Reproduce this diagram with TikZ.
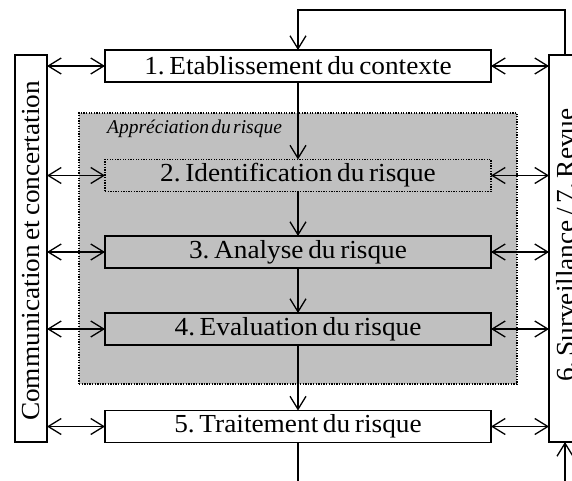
\documentclass[tikz,border=0pt]{standalone}
\usepackage{fontspec}
\setmainfont{Liberation Serif}
\newfontfamily\widefont[FakeStretch=1.05]{Liberation Serif}
\newcommand\myboxfont{\widefont\fontsize{26}{28}\selectfont\frenchspacing\spaceskip=0.18em\relax}
\newcommand\myitfont{\fontsize{19.5}{21}\selectfont\itshape\spaceskip=0.12em\relax}
\usetikzlibrary{arrows.meta}
\definecolor{rgray}{RGB}{192,192,192}
\begin{document}
\begin{tikzpicture}[x=1pt,y=-1pt,
  bigfont/.style={font=\myboxfont},
  box/.style={draw=black, line width=1.3pt, inner sep=0pt, outer sep=0pt,
    minimum width=386pt, minimum height=32pt, bigfont},
  graybox/.style={box, fill=rgray},
  dotbox/.style={graybox, dash pattern=on 1.3pt off 1.3pt},
  region/.style={fill=rgray, draw=black, line width=1.2pt, dash pattern=on 1.3pt off 1.3pt,
    inner sep=0pt, outer sep=0pt, minimum width=438pt, minimum height=271pt},
  sidebox/.style={draw=black, fill=white, line width=1.3pt, inner sep=0pt, outer sep=0pt,
    minimum width=32pt, minimum height=387pt},
  sidetext/.style={rotate=90, bigfont, inner sep=0pt},
  conn/.style={line width=1.3pt},
  arr/.style={conn, -{Straight Barb[length=13pt,width=16pt]}},
  darr/.style={conn, {Straight Barb[length=13pt,width=16pt]}-{Straight Barb[length=13pt,width=16pt]}}
]
\useasboundingbox (0,0) rectangle (572,481);
\fill[white] (0,0) rectangle (572,481);

% risk assessment region
\node[region] (reg) at (298,248.5) {};
\node[anchor=west, inner sep=0pt, font=\myitfont] (regl) at (107,128.5) {Appréciation du risque};

% side boxes
\node[sidebox] (L) at (31,248.5) {};
\node[sidetext] (Lt) at (31,251) {Communication et concertation};
\node[sidebox] (R) at (565,248.5) {};
\node[sidetext] (Rt) at (566,245) {6. Surveillance / 7. Revue};

% process boxes
\node[box, fill=white] (b1) at (298,66) {1. Etablissement du contexte};
\node[dotbox] (b2) at (298,175.5) {2. Identification du risque};
\node[graybox] (b3) at (298,252) {3. Analyse du risque};
\node[graybox] (b4) at (298,329) {4. Evaluation du risque};
\node[box, fill=white] (b5) at (298,426.5) {5. Traitement du risque};

% main flow
\draw[arr] (b1.south) -- (b2.north);
\draw[arr] (b2.south) -- (b3.north);
\draw[arr] (b3.south) -- (b4.north);
\draw[arr] (b4.south) -- (b5.north);

% feedback loop on top
\coordinate (top) at (298,10);
\draw[arr] (R.north) |- (top) -- (b1.north);

% bottom free ends
\coordinate (bot) at (298,481);
\draw[conn] (b5.south) -- (bot);
\draw[arr] (R.south |- bot) -- (R.south);

% double arrows
\foreach \b in {b1,b2,b3,b4,b5}{
  \draw[darr] (L.east |- \b.west) -- (\b.west);
  \draw[darr] (\b.east) -- (R.west |- \b.east);
}
\end{tikzpicture}
\end{document}
